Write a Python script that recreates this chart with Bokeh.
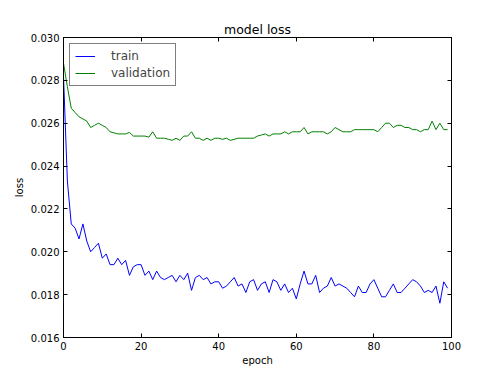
from bokeh.plotting import figure
from bokeh.models import Range1d, FixedTicker, LinearAxis, Legend, LegendItem, NumeralTickFormatter
from bokeh.embed import file_html
from bokeh.resources import INLINE

epochs = list(range(100))
train = [0.0282, 0.0233, 0.0213, 0.0211, 0.0206, 0.0213, 0.0205, 0.0200, 0.0202, 0.0204,
         0.0197, 0.0199, 0.0194, 0.0194, 0.0197, 0.0194, 0.0196, 0.0189, 0.0193, 0.0194,
         0.0194, 0.0189, 0.0191, 0.0187, 0.0191, 0.0188, 0.0187, 0.0188, 0.0189, 0.0186,
         0.0189, 0.0187, 0.0190, 0.0182, 0.0188, 0.0189, 0.0187, 0.0188, 0.0185, 0.0186,
         0.0186, 0.0183, 0.0184, 0.0186, 0.0188, 0.0184, 0.0185, 0.0181, 0.0186, 0.0187,
         0.0182, 0.0185, 0.0186, 0.0181, 0.0187, 0.0186, 0.0182, 0.0185, 0.0181, 0.0183,
         0.0178, 0.0185, 0.0191, 0.0185, 0.0185, 0.0189, 0.0181, 0.0183, 0.0184, 0.0188,
         0.0184, 0.0185, 0.0184, 0.0183, 0.0181, 0.0179, 0.0184, 0.0181, 0.0181, 0.0185,
         0.0187, 0.0183, 0.0179, 0.0179, 0.0182, 0.0185, 0.0181, 0.0181, 0.0183, 0.0185,
         0.0187, 0.0186, 0.0184, 0.0181, 0.0182, 0.0181, 0.0184, 0.0176, 0.0186, 0.0183]
validation = [0.0288, 0.0277, 0.0267, 0.0265, 0.0263, 0.0262, 0.0261, 0.0258, 0.0259, 0.0260,
              0.0259, 0.0258, 0.0256, 0.02555, 0.0255, 0.0255, 0.0255, 0.02557, 0.0254, 0.0254,
              0.0254, 0.0254, 0.02535, 0.0256, 0.0253, 0.0253, 0.0253, 0.02525, 0.0252, 0.0253,
              0.0252, 0.0254, 0.0254, 0.0256, 0.0253, 0.0253, 0.0252, 0.0253, 0.0252, 0.0253,
              0.0253, 0.02525, 0.0253, 0.0252, 0.02525, 0.0253, 0.0253, 0.0253, 0.0253, 0.0253,
              0.0254, 0.02545, 0.0255, 0.0254, 0.0255, 0.0255, 0.0255, 0.0256, 0.0255, 0.0256,
              0.0256, 0.0256, 0.0258, 0.0255, 0.0256, 0.0256, 0.0256, 0.0256, 0.0255, 0.0256,
              0.0258, 0.0257, 0.0256, 0.0256, 0.0256, 0.0257, 0.0257, 0.0257, 0.0257, 0.0257,
              0.0257, 0.0256, 0.0258, 0.0260, 0.0260, 0.0258, 0.0259, 0.0259, 0.0258, 0.0258,
              0.0257, 0.0257, 0.0256, 0.0257, 0.0257, 0.0261, 0.0257, 0.0260, 0.0257, 0.0257]
x_ticks = [0, 20, 40, 60, 80, 100]
y_ticks = [0.016, 0.018, 0.020, 0.022, 0.024, 0.026, 0.028, 0.030]

FONT = "DejaVu Sans"

p = figure(frame_width=388, frame_height=300, output_backend="svg", toolbar_location=None,
           x_range=Range1d(0, 100), y_range=Range1d(0.016, 0.030),
           title="model loss", min_border_left=63, min_border_right=33,
           min_border_top=37, min_border_bottom=30)
p.title.align = "center"
p.title.text_font = FONT
p.title.text_font_size = "12.5px"
p.title.text_font_style = "normal"
p.title.text_color = "black"
p.title.standoff = 2

p.grid.visible = False
p.outline_line_color = "black"
p.outline_line_width = 1
p.background_fill_color = "white"
p.border_fill_color = "white"

def style_axis(ax, labels=True):
    ax.major_tick_in = 4
    ax.major_tick_out = 0
    ax.minor_tick_in = 0
    ax.minor_tick_out = 0
    ax.axis_line_color = "black"
    ax.major_tick_line_color = "black"
    ax.major_label_text_font = FONT
    ax.major_label_text_font_size = "10px"
    ax.major_label_text_color = "black"
    ax.major_label_standoff = 4
    if not labels:
        ax.major_label_text_alpha = 0
        ax.major_label_text_font_size = "1px"

p.xaxis.ticker = FixedTicker(ticks=x_ticks)
p.yaxis.ticker = FixedTicker(ticks=y_ticks)
p.yaxis.formatter = NumeralTickFormatter(format="0.000")
style_axis(p.xaxis[0])
style_axis(p.yaxis[0])
p.xaxis.axis_label = "epoch"
p.yaxis.axis_label = "loss"
for ax in (p.xaxis[0], p.yaxis[0]):
    ax.axis_label_text_font = FONT
    ax.axis_label_text_font_size = "10px"
    ax.axis_label_text_font_style = "normal"
    ax.axis_label_text_color = "black"
p.xaxis[0].axis_label_standoff = 2
p.yaxis[0].axis_label_standoff = 3

top = LinearAxis(ticker=FixedTicker(ticks=x_ticks))
right = LinearAxis(ticker=FixedTicker(ticks=y_ticks))
style_axis(top, labels=False)
style_axis(right, labels=False)
p.add_layout(top, "above")
p.add_layout(right, "right")

r1 = p.line(epochs, train, line_color="#0000ff", line_width=1)
r2 = p.line(epochs, validation, line_color="#008000", line_width=1)

legend = Legend(items=[LegendItem(label="train", renderers=[r1]),
                       LegendItem(label="validation", renderers=[r2])],
                location="top_left")
legend.label_text_font = FONT
legend.label_text_font_size = "12px"
legend.border_line_color = "black"
legend.border_line_width = 1
legend.background_fill_alpha = 1
legend.glyph_width = 20
legend.glyph_height = 14
legend.label_height = 14
legend.label_standoff = 16
legend.spacing = 3
legend.padding = 5
legend.margin = 6
p.add_layout(legend)

open("out.html", "w").write(file_html(p, INLINE))
